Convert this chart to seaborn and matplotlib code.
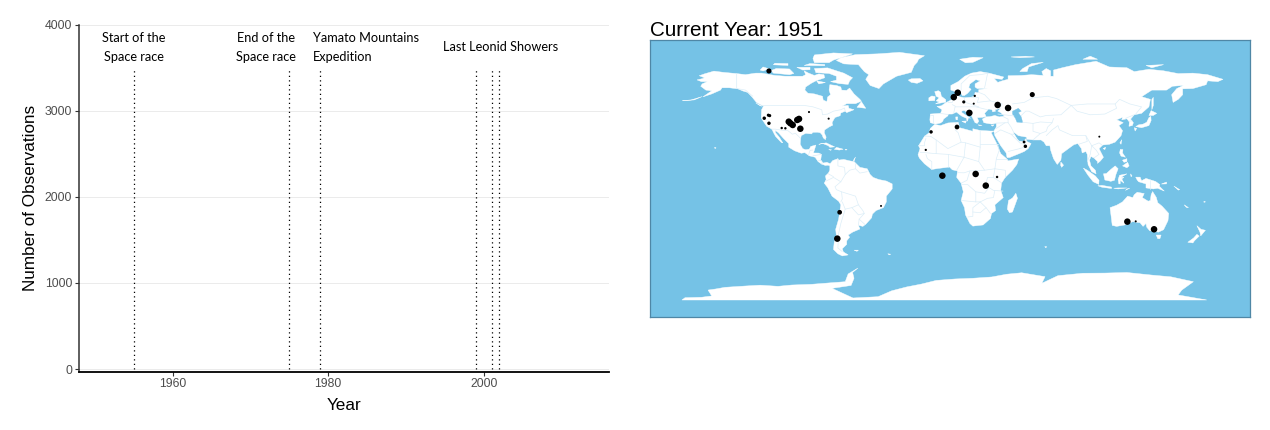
import numpy as np
import pandas as pd
import matplotlib
matplotlib.use("Agg")
import matplotlib.pyplot as plt
import seaborn as sns

# ---------- timeline data ----------
event_years = [1955, 1975, 1979, 1999, 2001, 2002]
event_top = 3500
y_ticks = [0, 1000, 2000, 3000, 4000]
x_ticks = [1960, 1980, 2000]
event_labels = ["Start of the\nSpace race", "End of the\nSpace race",
                "Yamato Mountains\nExpedition", "Last Leonid Showers"]
label_x = [1955, 1972, 1978, 2002.1]
label_y = [3733, 3733, 3733, 3745]
label_ha = ["center", "center", "left", "center"]

# ---------- meteorite points of the current year ----------
lon = [-119, -119.4, -118.5, -122.2, -119, -110.3, -107.8, -105.5, -104.4, -102.8, -99.7, -98.5, -97.6, -91.7, -78.3,
       -8.5, -12.1, 7, 9.7, 21.3, 13.8, 20.6, 36.9, 44, 60.5, 17.6, 9.2, 54.9, 55.8, 106.2, 21.9, 36.5, -0.8,
       -42.6, -70.8, -72.4, 28.8, 125.3, 131, 143.5]
lat = [72.9, 42.2, 41.9, 40.1, 36.6, 33.3, 33.1, 37.7, 36.6, 35.4, 38.9, 39.6, 32.8, 44.4, 39.8,
       30.6, 18.1, 54.7, 57.8, 55.6, 51.4, 50.2, 49.3, 47.2, 56.5, 43.8, 34, 23.6, 20.6, 27.3, 1.4, -0.7, 0.2,
       -20.8, -25.2, -43.5, -6.7, -31.7, -31.5, -37]
mass = [6, 2, 2, 2.5, 2.5, 1, 1, 10, 10, 10, 10, 10, 10, 0.6, 0.6,
        2.5, 0.8, 10, 10, 0.8, 2, 0.6, 10, 10, 6, 10, 5, 1.5, 2.5, 0.5, 10, 1, 10,
        0.5, 5, 10, 10, 10, 0.6, 10]

# ---------- land outlines (lon, lat) ----------
north_america = [(-168,65.6),(-164,66.5),(-163,67),(-166.5,68.3),(-163,69.5),(-156.5,71.3),(-150,70.5),(-141,69.7),(-135,69),(-128,70),(-124,70),(-115,68.5),(-108,68),(-101,68),(-96,68),(-94,69),(-95,71.5),(-92,70),(-88,68.5),(-85,69.5),(-81.5,69),(-81,67),(-87,65),(-90,63.5),(-94,61),(-94.5,59),(-92.5,57),(-88,56.5),(-82.5,55),(-82,52.5),(-79.5,51.5),(-79,54.5),(-77,56),(-78,59),(-77.5,62.5),(-73,62),(-70,61),(-69.5,59),(-66,58.8),(-64,60.3),(-61,56.5),(-57,53),(-56,51.8),(-60,50.2),(-66,50.2),(-69,48.5),(-65,49),(-64.5,47),(-61,46),(-64,44.8),(-66,44),(-67,45),(-70,43.7),(-70.5,41.8),(-74,40.6),(-75.5,38),(-76,36.8),(-75.5,35.3),(-78,34),(-81,32),(-81.3,30),(-80,27),(-80.5,25.2),(-82,26.5),(-82.7,28.5),(-84,30),(-86,30.4),(-89,30.3),(-90,29.2),(-94,29.6),(-97,28),(-97.5,25),(-97.7,22),(-96,19),(-94,18.2),(-91.5,18.6),(-90.5,20.5),(-87,21.5),(-88,18),(-88.7,16),(-85,15.9),(-83.2,15),(-83.7,11),(-82,9),(-79.5,9.5),(-77.3,8.5),(-77.5,7.2),(-79,7.5),(-80.5,7.3),(-83,8.2),(-85.5,10),(-87.5,13),(-91.5,14),(-94.5,16.2),(-97,15.8),(-101.5,17.5),(-105.5,20),(-105.5,22.5),(-109,26),(-112.5,30),(-114.7,31.7),(-114.5,30),(-112,27),(-110.5,24.5),(-109.5,23),(-110.5,23.2),(-112.2,25),(-114.5,27.5),(-115.8,30),(-117,32.5),(-120.5,34.5),(-122.5,37.5),(-124.3,40.3),(-124,46),(-122.7,48.5),(-127.5,51),(-130.5,54.5),(-133.5,57.5),(-137,58.5),(-140,59.8),(-146,60.5),(-151,60.5),(-152,59),(-158,56.5),(-164,54.6),(-158,58.5),(-162,59),(-165.5,61.5),(-164.5,63),(-161,64.5),(-165,64.5)]
greenland = [(-73,78.2),(-68,76),(-58,75.5),(-54,71),(-51,69),(-53,66),(-50,62),(-44,60),(-41,63),(-32,68),(-22,70.5),(-20,75),(-18,77),(-17,79),(-13,81.3),(-30,83.5),(-45,82.5),(-60,82),(-70,80)]
south_america = [(-77.3,8.5),(-75.5,10.7),(-72,12),(-71.5,11),(-68,11.5),(-64,10.5),(-61,10),(-57,6),(-52,5),(-50,1),(-48,-1),(-44,-2.5),(-39,-3.5),(-35,-5.5),(-35,-9),(-39,-14),(-39,-18),(-41,-22),(-46,-24),(-48.5,-26.5),(-49,-29),(-53,-33.5),(-55,-35),(-58,-34.2),(-57,-36.8),(-62,-39),(-65,-41),(-64,-42.5),(-66,-45),(-66,-47.5),(-69,-50.5),(-68.3,-52.7),(-65,-54.8),(-69,-55.5),(-72,-54),(-75,-51),(-74.5,-46),(-73,-42),(-73.5,-37),(-71.5,-30),(-70,-20),(-71.5,-17.5),(-76,-14),(-79,-8),(-81.3,-5),(-80,-2.5),(-80.5,0),(-78.5,2),(-77.5,4),(-77.5,7)]
africa = [(-6,35.8),(-2,35),(3,36.8),(10,37.3),(11,33.5),(15,32.4),(20,31),(20,32.8),(25,31.6),(32,31.2),(34.3,31.2),(32.5,30),(34,27),(36,23),(37.5,19),(39,15.5),(43,12),(44,10.5),(51.2,11.8),(50,8),(47,4),(42,-1),(39.5,-5),(39,-10),(40.7,-15),(35,-20),(35.5,-24),(32.7,-26),(32,-29.5),(27,-34),(20,-34.8),(18,-33),(15,-27),(14.3,-22),(12,-17),(13.5,-11),(12,-5),(9,-1),(9.5,3.5),(6,4.3),(4,6.3),(1,5.8),(-4,5.2),(-8,4.5),(-13,8.5),(-16.5,12.5),(-17.4,14.7),(-16,19),(-17,21),(-13,27.5),(-9.8,30),(-9,33)]
eurasia = [(-5.5,36),(-9,37),(-9.3,39),(-9,43),(-2,43.5),(-1,46),(-4.5,48.3),(-1.5,48.7),(1.5,50.8),(4,52),(7,53.5),(8.5,54),(8.2,57),(10.6,57.7),(10.5,54.8),(14,54),(19,54.4),(21,55),(21.5,57.5),(24,57.2),(24,59.3),(30,60),(23,60),(21.5,61),(21.5,63),(25,65),(22,65.8),(18,63),(17.2,60.7),(18.8,59.5),(16.5,57),(14.3,55.5),(12.8,55.5),(11.2,58.5),(8,58),(5,59),(5,62),(10,64.5),(14.5,68),(19,70),(25,71),(31,70),(41,67.5),(40,66),(34.5,66.5),(37,64),(40,65),(44,66),(44,68.3),(53,68.5),(60,69),(68,68.5),(67,71),(70,73),(73,71.5),(73,68),(75,68),(75,72),(81,73.5),(90,75.5),(104,77.7),(113,74),(125,73.5),(130,71),(140,72.5),(150,71.5),(160,69.7),(170,70),(180,69),(190.5,66),(187,64.5),(180,65),(179,62.5),(170,60),(163,59.8),(163,56),(160,53),(156.5,51),(155.5,56),(159,60),(163.5,62),(156,61.5),(152,59),(142,59),(135,54.7),(141,53),(140,48),(135,43.5),(130,42.5),(127.5,39.5),(129.4,37),(128.7,35),(126.4,34.5),(126.7,37.5),(125,39.7),(121.5,39),(122,40.7),(118,39),(122.5,37),(119.5,35),(122,31.5),(121,28),(117,23.5),(113,22),(108.5,21.5),(106,19),(109,13),(107,10.5),(105,8.7),(105,10),(102.5,12.5),(100.5,13.5),(99.5,11),(100.5,7),(103.5,4),(104,1.5),(101,3),(98.5,8),(98,15),(97,17),(94.5,16),(94,19),(91.5,22.5),(89,21.8),(86.5,20),(80.5,15.5),(80,11),(77.5,8),(75,12),(73,18),(72.5,21),(70,21),(68.5,23.5),(66.5,25),(61.5,25),(57,25.5),(56.5,27),(51,28),(48.5,30),(47.7,30),(50,26),(51.5,24.2),(54.5,24),(56.3,26),(56.7,24),(59.7,22.5),(57.7,19),(55,17),(52,15.7),(45,12.8),(43.3,12.8),(42.7,16),(39,21),(35,28),(34.3,31.2),(36,34),(36,36.7),(33,36),(30,36.5),(27.5,37),(26.5,39.5),(29,41),(31.5,41.2),(35,42),(38,41),(41.5,41.6),(39,44),(37,45),(39,47),(35,46),(35.5,45),(33.5,44.5),(33,46),(30.7,46.5),(28,43.5),(29,41.3),(26.5,40.7),(23,40.5),(24,38),(23,36.5),(21.5,37),(19.5,41),(18.5,42.5),(14,45.5),(12.4,45),(12.5,44),(16,41.7),(18.4,40),(17,40.5),(16.5,38.5),(16,38),(15.7,40),(12.5,41.5),(10.5,43),(8.8,44.4),(6,43),(3.2,43),(3,41.8),(0,39.5),(-0.5,38),(-2,36.8)]
australia = [(113.5,-22),(114,-26),(115,-34.3),(118,-35),(123.5,-34),(129,-31.7),(134,-32.5),(136,-35),(138,-33),(138.5,-35.5),(140.5,-38),(144,-38.5),(146.5,-39),(150,-37.3),(153,-31),(153.5,-26),(149,-21),(146,-18.5),(145,-14.8),(142.5,-10.8),(141.5,-13),(141,-17),(139.5,-17.5),(135.5,-15),(136.8,-12.2),(132,-11.3),(130,-13),(129,-15),(125.5,-14),(122,-18),(118,-20.3),(114,-21.8)]
antarctica = [(-178.3,-86.1),(-176.2,-84.5),(-165,-84.2),(-158,-83.3),(-160.5,-79.2),(-155,-78.4),(-149,-77.3),(-135.3,-76.4),(-125,-75.8),(-112.8,-76.6),(-103.5,-75.7),(-90,-75.2),(-78.7,-74.3),(-67,-73.4),(-65,-68),(-58.3,-63.9),(-62,-67),(-61,-71),(-63,-76),(-76,-78),(-61.7,-84.7),(-44.6,-83.8),(-35.3,-79.7),(-25,-77),(-14.9,-75),(-5,-72.5),(7.8,-71.5),(20,-71),(32.9,-70.1),(43,-68.2),(53.3,-67.2),(69.2,-69.9),(67,-74.5),(78,-69.2),(95,-67.5),(110,-67.4),(125,-67),(142,-68.8),(155,-70),(170.3,-73.4),(162.4,-79.2),(159.9,-82.6),(179.4,-86.1)]
islands = [
    [(-79,73.4),(-72,71.2),(-68,70),(-62,67),(-64,65),(-65,62.7),(-71,63.2),(-77,64.5),(-73,65.5),(-73,68),(-78,69.8),(-87,70.3),(-88,73)],
    [(-116,70),(-105,69),(-102,69.8),(-105,72.7),(-114,73),(-117.5,71.7)],
    [(-125,72),(-123,71.4),(-119,72.8),(-123,74)],
    [(-88,76.8),(-78,76.8),(-75,78.5),(-65,81.5),(-62,82.5),(-75,83.1),(-88,81.8),(-89,79.5)],
    [(-95,75),(-81,74.8),(-81,75.6),(-91,76.2)],
    [(-116,75.4),(-106,75),(-106,76.2),(-115,76.4)],
    [(-100,73.8),(-96,72),(-91,72.2),(-91,73.8)],
    [(-86.5,65),(-80.5,63.9),(-85,63)],
    [(-59,47.7),(-56,51.5),(-53,47)],
    [(-128,50.7),(-123.5,48.4),(-125,48.7)],
    [(-178,52.2),(-172,52.6),(-164.5,54.8),(-170,52.6)],
    [(-85,22),(-80,23),(-74.2,20.2),(-77.5,19.9),(-78.5,21),(-82.5,22.6)],
    [(-74.4,18.5),(-73,19.9),(-68.4,18.6),(-71,18)],
    [(-78.3,18.4),(-76.3,18.2),(-77,17.8)],
    [(-67.2,18.5),(-65.7,18.4),(-66.5,17.9)],
    [(-24,65.5),(-22,64),(-18,63.4),(-14,65),(-16,66.5),(-22,66.3)],
    [(11,79),(20,80.3),(27,80),(20,77),(15,76.7)],
    [(52,71),(57,71),(58,74),(68,77),(60,76.2),(54,73)],
    [(46,80.5),(56,81),(62,80.5),(52,80)],
    [(95,79),(105,79),(100,81)],
    [(138,75),(150,75.5),(142,73.5)],
    [(12.5,38),(15.5,38.2),(15,36.7)],
    [(8.3,41),(9.7,41),(9.5,39),(8.5,39)],
    [(23.5,35.5),(26.3,35.2),(24.5,35)],
    [(32.5,35),(34.5,35.6),(33.5,34.6)],
    [(-5.5,50),(1.5,51.2),(1.5,52.8),(-1.5,55),(-2,57.6),(-3.5,58.6),(-6,58),(-5,55),(-3,54),(-5,52),(-3,51.3)],
    [(-10,52),(-6,52.2),(-5.7,54.8),(-8,55.2),(-10,54)],
    [(131,34.3),(135,33.5),(140,35),(141.5,38.5),(141.3,41.4),(140,40.5),(138.5,37.3),(136,36),(133,35.5)],
    [(140,42),(141.5,45.4),(145.3,43.5),(143,42)],
    [(130,33.5),(131.7,33),(130.6,31.2)],
    [(142,46),(143,49),(143,54.3),(142,53),(142,48)],
    [(120.2,23),(121.5,25.2),(121,22)],
    [(108.7,19),(110.5,20),(110,18.3)],
    [(80,9.7),(81.8,7.5),(80.5,6),(79.8,7.5)],
    [(120.5,18.5),(122.3,18.3),(122,16),(124,13),(121,13.8),(120,16)],
    [(122,7),(125.5,9.5),(126.5,7),(125,5.7)],
    [(122,11),(125,12),(125,10),(123,9.5)],
    [(95.3,5.5),(98,4),(103.5,0),(106,-3),(105.8,-5.8),(102,-4),(98.5,0.5)],
    [(105.2,-6.8),(108,-6.5),(114.5,-7.7),(114.5,-8.7),(108,-7.8)],
    [(109,1.5),(111,1.7),(114,4.5),(117,7),(119,5),(117.5,1),(116.5,-3),(114,-3.7),(110,-2.8)],
    [(119.5,-5.5),(119,-2.5),(120,0.5),(125,1.5),(121,-0.9),(123,-1),(121.5,-2),(123,-5),(120.5,-3),(120.4,-5.5)],
    [(131,-0.8),(134,-0.8),(135,-3.3),(138,-1.7),(144.5,-3.8),(147.5,-6),(147,-7),(150.5,-10.5),(146,-8.5),(143,-9),(138,-8.3),(138,-5.5),(133,-4),(132,-2.8)],
    [(124,-10),(127,-8.4),(125,-9)],
    [(116,-8.5),(119,-8.3),(125,-8.3),(119,-9)],
    [(127.5,1.5),(128.5,0),(127.8,-0.5)],
    [(148.5,-5.6),(152,-4.2),(152,-5.5)],
    [(157,-7),(161,-9.5),(160,-9.8)],
    [(164,-20),(167,-22),(165.5,-21.8)],
    [(177.5,-17.5),(178.6,-18),(177.5,-18.3)],
    [(145,-41),(148.3,-41),(147.5,-43.5),(146,-43.5)],
    [(172.7,-34.5),(175.5,-37),(178.5,-37.7),(175.3,-41.6),(174.8,-39)],
    [(172.7,-40.5),(174.3,-41.7),(171,-45),(170,-46.5),(166.5,-46),(170.5,-43)],
    [(49.3,-12),(50.4,-15.5),(47,-25),(45,-25.5),(43.5,-23),(44.3,-17),(47,-15.3)],
    [(-61,-51.5),(-58,-51.5),(-59,-52.3)],
    [(-38,-54),(-36,-54.3),(-37,-54.8)],
    [(69,-49),(70.5,-49.2),(69.5,-49.8)],
    [(-156,20),(-155,19.5),(-155.8,19)],
    [(-60,13.2),(-61,10.2),(-61.5,10.7)],
]
caspian = [(47,45),(51,47),(53,45),(51,44),(53,41),(54,37),(50,37.4),(49,40),(47,43)]
borders = [
    [(-141,69.7),(-141,60),(-135,59),(-130,55)],
    [(-123,49),(-95,49),(-89,48),(-83,46),(-82.5,42.5),(-79,43),(-75,45),(-70,46),(-67.5,47.2),(-67,45)],
    [(-117,32.5),(-114.7,32.5),(-108,31.5),(-106.5,31.8),(-103,29),(-101,29.7),(-97.3,26)],
    [(-92,14.6),(-91,17.8),(-89,18)],[(-89,14),(-83.2,15)],[(-85.7,11),(-83.7,11)],[(-83,8.3),(-82.7,9.5)],
    [(-72,12),(-72,7),(-67.5,6),(-67,1),(-70,-4),(-74,-7.5),(-73,-9.5),(-69.5,-11),(-69,-16),(-70,-18)],
    [(-60,8.5),(-60,5),(-64,4),(-67,1)],[(-52,3),(-57,2),(-60,5)],
    [(-69.5,-11),(-60,-14),(-58,-20),(-55,-24),(-54,-26),(-57.5,-30),(-53.5,-33.7)],
    [(-69,-18),(-67,-23),(-70,-33),(-71.5,-40),(-72,-50),(-69,-52.5)],
    [(-67,-23),(-62.5,-22),(-58,-20)],[(-62.5,-22),(-58,-27),(-54,-26)],
    [(-80,-3.5),(-75,-1),(-70,-4)],[(-78.5,1.5),(-75,-0.5)],[(-58,-34),(-57.5,-30)],
    [(-8.7,27.5),(-13,27.7)],[(-8.7,27.5),(-5,25),(3,19),(12,23.5),(10,30),(8,32),(8.5,36.9)],
    [(12,23.5),(15,23),(25,20),(25,31.6)],[(25,22),(36.8,22)],[(-17,21),(-13,21),(-13,23),(-12,26)],
    [(-16,16.5),(-5,15.5),(-5,25)],[(-12,15),(-11,12),(-8,10),(-8,4.5)],[(-5,15.5),(3,15),(14,13),(15,23)],
    [(3,15),(3,6.3)],[(14,13),(9,4)],[(14,13),(24,10),(25,20)],[(24,10),(28,4),(35,5),(42,4)],
    [(36.8,22),(38,18),(36,12),(35,5)],[(36,12),(43,12)],[(42,4),(42,-1)],[(35,5),(34,-1),(39.5,-4.7)],
    [(34,-1),(30,-1),(29,-5),(31,-8),(34,-10),(40.5,-10.5)],[(9.5,2.3),(14,2.2),(18,3.5),(28,4)],
    [(18,3.5),(16,-3),(12,-5)],[(12.2,-6),(16.5,-6),(22,-11),(28,-12),(31,-8)],[(22,-11),(22,-18),(12,-17)],
    [(22,-18),(25,-18),(30,-15.5),(34,-15),(35,-10)],[(25,-18),(20,-22),(20,-28),(16.5,-28.5)],
    [(25,-18),(29,-22),(32,-26)],[(20,-25),(25,-25.5),(29,-22)],
    [(12,59),(12,63),(18,68.5),(25,69),(31,70)],[(30,69.7),(29,65),(28,60.5)],
    [(24,57.5),(28,56),(32,52),(23,51),(24,54),(19,54.4)],[(14,54),(15,51),(24,48)],[(7,53.5),(6,51),(3,51)],
    [(6,49.5),(8,48.5),(7,44)],[(8,48),(13,48),(17,48),(22,48),(30,46)],[(-2,43.4),(3,42.7)],[(-9,42),(-7,42),(-7,37)],
    [(32,52),(40,50),(38,47)],[(37,43),(48,41.7)],[(40,41.5),(44,39.5),(44,37),(36,36.7)],[(44,37),(46,34),(48,30)],
    [(36,33),(42,37)],[(35,29.5),(39,32),(46,29),(48.5,29)],[(46,29),(52,23),(55,22),(56,24.5)],[(52,19),(55,20),(55,22)],
    [(44,17),(52,19)],[(47,50),(55,51),(61,54),(71,55),(77,53.5),(87,49)],[(53,42),(56,45),(58,45),(66,41),(70,42),(80,42.5),(85,47),(87,49)],
    [(53.8,37.3),(61,36.5),(66,37.5),(74,37),(75,40)],[(61,36.5),(61,31),(66,29.5),(61,25)],[(74,37),(71,34),(70,31),(66,29.5)],
    [(70,28),(74,32),(78,35),(79,32),(88,28),(92,28),(97,28),(98,24),(92,22)],
    [(87,49),(98,50),(107,50),(117,50),(120,53),(127,50),(135,48),(131,43)],[(87,49),(91,45),(100,42.5),(110,43),(118,47),(117,50)],
    [(97,28),(101,21),(106,23),(108,21.5)],[(101,21),(100,15),(98,10)],[(101,21),(104,18),(106,15),(102.5,12.5)],
    [(124,40),(130,42.5)],[(126.5,38),(128.5,38.3)],[(141,-2.6),(141,-9)],
]
land_shapes = [north_america, greenland, south_america, africa, eurasia, australia, antarctica] + islands

OCEAN = "#75C2E6"
BORDER = "#DCEEF8"

sns.set_style("white")
plt.rcParams["font.family"] = ["Liberation Sans", "DejaVu Sans"]

W, H = 1270, 430
fig = plt.figure(figsize=(W / 100, H / 100), dpi=100)

def px_axes(l, t, r, b):
    return fig.add_axes([l / W, 1 - b / H, (r - l) / W, (b - t) / H])

def map_lat(values):
    # the reference map stretches the far north a little
    return [v + max(0, v - 50) * 0.07 for v in values]

# ---------- left panel ----------
ax = px_axes(78.5, 24.7, 609, 371.5)
sns.despine(ax=ax)
ax.set_xlim(1947.9, 2016.1)
ax.set_ylim(-29, 4000)
ax.set_yticks(y_ticks)
ax.set_xticks(x_ticks)
ax.yaxis.grid(True, color="#EBEBEB", lw=0.7)
ax.xaxis.grid(False)
ax.set_axisbelow(True)
ax.tick_params(axis="both", length=3, width=0.8, color="#333333", labelcolor="#4D4D4D", labelsize=8.8, pad=1.5, left=True, bottom=True)
ax.spines["left"].set_color("#333333")
ax.spines["left"].set_linewidth(1.1)
ax.spines["bottom"].set_color("black")
ax.spines["bottom"].set_linewidth(1.3)
ax.spines["top"].set_visible(False)
ax.spines["right"].set_visible(False)
ax.vlines(event_years, 0, event_top, color="black", lw=0.9, linestyles=(0, (1, 2.6)))
for t, x, y, ha in zip(event_labels, label_x, label_y, label_ha):
    ax.text(x, y, t, ha=ha, va="center", family="Lato", fontsize=9.2, color="black", linespacing=1.75)
ax.set_xlabel("Year", fontsize=12.3, color="black", labelpad=6)
ax.set_ylabel("Number of Observations", fontsize=12.3, color="black", labelpad=5)

# ---------- right panel ----------
m = px_axes(650, 40, 1250, 317)
m.set_facecolor(OCEAN)
m.set_xlim(-200.07, 208.9)
m.set_ylim(-97.9, 94.4)
for shape in land_shapes:
    xs, ys = zip(*shape)
    m.fill(xs, map_lat(ys), facecolor="white", edgecolor="white", lw=0.3, zorder=2)
xs, ys = zip(*caspian)
m.fill(xs, ys, facecolor=OCEAN, edgecolor=OCEAN, lw=0.2, zorder=3)
for line in borders:
    xs, ys = zip(*line)
    m.plot(xs, map_lat(ys), color=BORDER, lw=0.5, zorder=3)
points = pd.DataFrame({"lon": lon, "lat": lat, "mass": mass})
sns.scatterplot(data=points, x="lon", y="lat", size="mass", sizes=(2, 22), color="black",
                linewidth=0, legend=False, ax=m, zorder=5)
m.set_xlabel("")
m.set_ylabel("")
m.set_xticks([])
m.set_yticks([])
m.set_title("Current Year: 1951", loc="left", fontsize=14.9, color="black", pad=2)
for s in m.spines.values():
    s.set_visible(True)
    s.set_color("#4F87A6")
    s.set_linewidth(0.9)

fig.savefig("out.png", dpi=100, facecolor="white")
